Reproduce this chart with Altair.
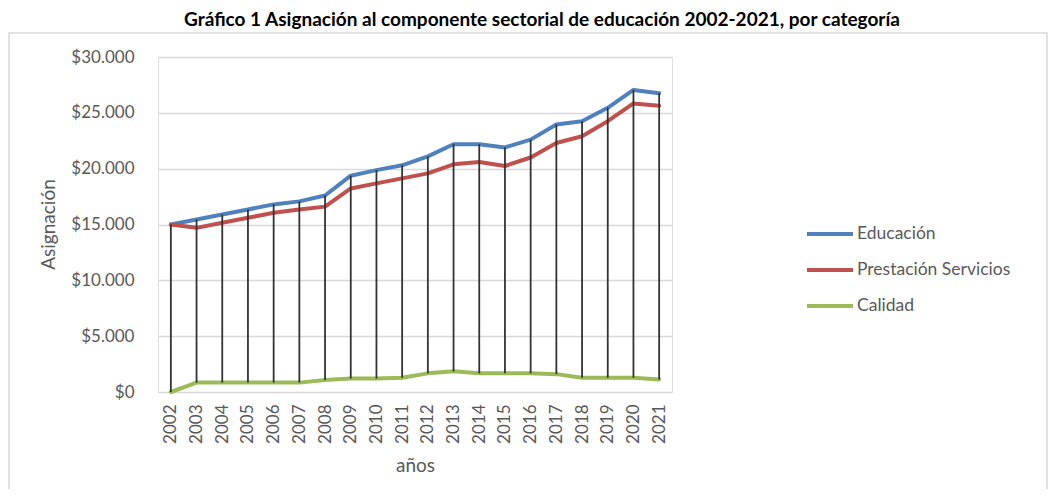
import altair as alt
import pandas as pd

years = [str(y) for y in range(2002, 2022)]
educacion = [15000, 15450, 15900, 16350, 16800, 17070, 17600, 19370, 19870, 20300,
             21100, 22190, 22190, 21900, 22600, 23950, 24250, 25450, 27050, 26750]
prestacion = [15000, 14700, 15150, 15600, 16050, 16350, 16600, 18230, 18680, 19130,
              19580, 20390, 20600, 20240, 21000, 22300, 22900, 24250, 25840, 25630]
calidad = [0, 840, 840, 840, 840, 840, 1070, 1200, 1200, 1280,
           1670, 1850, 1670, 1670, 1670, 1600, 1280, 1280, 1280, 1130]
series_names = ["Educación", "Prestación Servicios", "Calidad"]
series_colors = ["#4F81BD", "#C0504D", "#9BBB59"]
y_ticks = [0, 5000, 10000, 15000, 20000, 25000, 30000]
title_text = "Gráfico 1 Asignación al componente sectorial de educación 2002-2021, por categoría"

rows = []
for name, vals in zip(series_names, [educacion, prestacion, calidad]):
    for yr, v in zip(years, vals):
        rows.append({"año": yr, "serie": name, "valor": v})
df = pd.DataFrame(rows)

FONT = "Lato"
GRAY = "#595959"

x_enc = alt.X("año:O", scale=alt.Scale(type="point", padding=0.5),
              axis=alt.Axis(title="años", labelAngle=270, labelFontSize=17, labelColor=GRAY,
                            labelFont=FONT, labelPadding=12, ticks=False, domain=False,
                            grid=False, titleFont=FONT, titleFontSize=19, titleFontWeight="normal",
                            titleColor=GRAY, titleBaseline="middle", titleY=73))
y_enc = alt.Y("valor:Q", scale=alt.Scale(domain=[0, 30000], nice=False),
              axis=alt.Axis(title="Asignación", values=y_ticks,
                            labelExpr='"$" + replace(format(datum.value, ",.0f"), ",", ".")',
                            labelFontSize=17, labelColor=GRAY, labelFont=FONT, labelPadding=24,
                            ticks=False, domain=False, grid=True, gridColor="#d9d9d9",
                            gridWidth=1.5, titleFont=FONT, titleFontSize=19,
                            titleFontWeight="normal", titleColor=GRAY, titleAngle=270,
                            titleX=-110, titleY=167, titleAlign="center", titleBaseline="middle"))

frame = alt.Chart(pd.DataFrame({"k": [0]})).mark_rect(
    fill=None, stroke="#d9d9d9", strokeWidth=1.5
).encode(x=alt.value(-149), x2=alt.value(889), y=alt.value(-24), y2=alt.value(460))

title = alt.Chart(pd.DataFrame({"t": [title_text]})).mark_text(
    font=FONT, fontWeight="bold", fontSize=19, color="black", baseline="alphabetic", align="center"
).encode(text="t:N", x=alt.value(384), y=alt.value(-31))

lines = alt.Chart(df).mark_line(strokeWidth=4, strokeJoin="round", strokeCap="round").encode(
    x=x_enc, y=y_enc,
    color=alt.Color("serie:N", scale=alt.Scale(domain=series_names, range=series_colors),
                    sort=series_names,
                    legend=alt.Legend(title=None, orient="none", legendX=647, legendY=152,
                                      symbolType="stroke", symbolSize=2116, symbolStrokeWidth=4,
                                      labelFontSize=17.5, labelFont=FONT, labelColor=GRAY,
                                      labelOffset=2, rowPadding=2, padding=0)),
    order=alt.Order("serie:N")
)

drops = alt.Chart(df).mark_rule(color="#333333", strokeWidth=1.8).encode(
    x="año:O", y="max(valor):Q", y2="min(valor):Q"
)

chart = alt.layer(frame, lines, drops, title).properties(
    width=514, height=335,
    autosize=alt.AutoSizeParams(type="none"),
    padding={"left": 150, "top": 49, "right": 377, "bottom": 97},
).configure_view(stroke=None).configure(background="white")

chart.save("out.html", embed_options={"renderer": "svg", "actions": False})
